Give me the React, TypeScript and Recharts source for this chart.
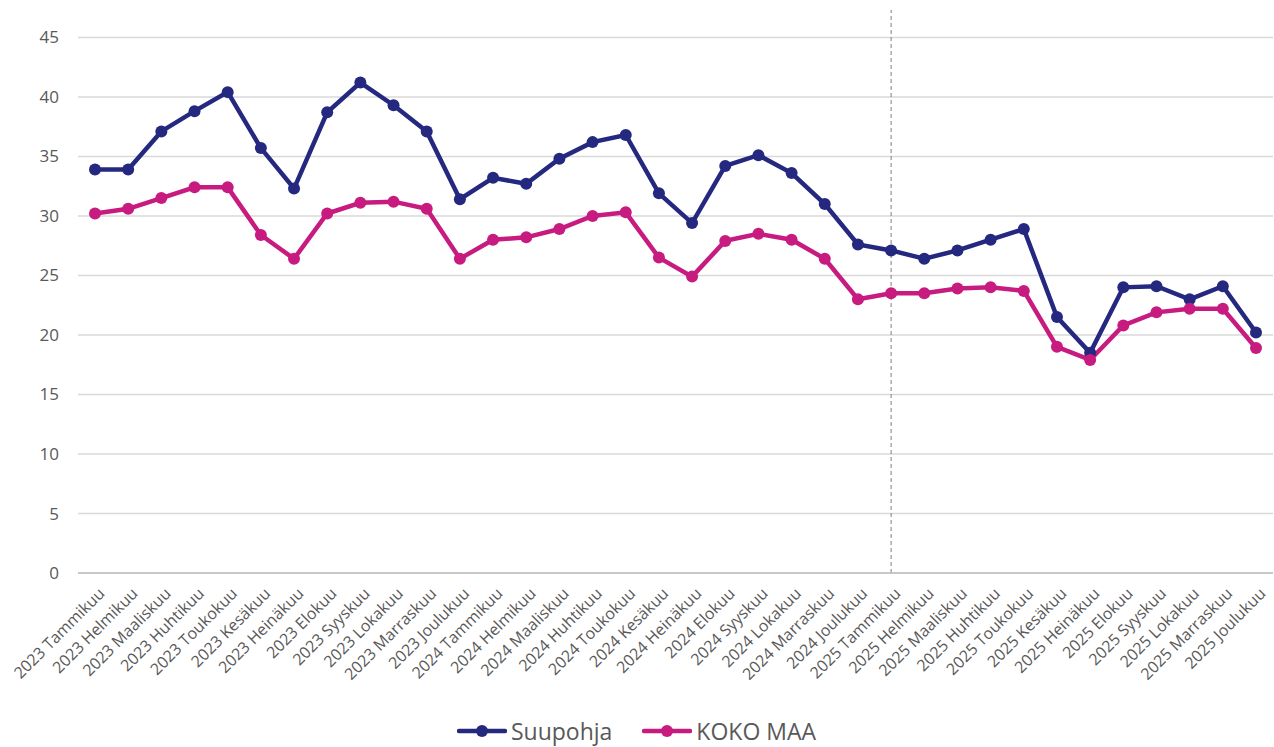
import React from "react";
import {
  LineChart,
  Line,
  XAxis,
  YAxis,
  CartesianGrid,
  Legend,
  ReferenceLine,
} from "recharts";

const months = [
  "Tammikuu", "Helmikuu", "Maaliskuu", "Huhtikuu", "Toukokuu", "Kesäkuu",
  "Heinäkuu", "Elokuu", "Syyskuu", "Lokakuu", "Marraskuu", "Joulukuu",
];
const years = [2023, 2024, 2025];
const categories = years.flatMap((y) => months.map((m) => `${y} ${m}`));

const suupohja = [
  33.9, 33.9, 37.1, 38.8, 40.4, 35.7, 32.3, 38.7, 41.2, 39.3, 37.1, 31.4,
  33.2, 32.7, 34.8, 36.2, 36.8, 31.9, 29.4, 34.2, 35.1, 33.6, 31.0, 27.6,
  27.1, 26.4, 27.1, 28.0, 28.9, 21.5, 18.5, 24.0, 24.1, 23.0, 24.1, 20.2,
];
const kokoMaa = [
  30.2, 30.6, 31.5, 32.4, 32.4, 28.4, 26.4, 30.2, 31.1, 31.2, 30.6, 26.4,
  28.0, 28.2, 28.9, 30.0, 30.3, 26.5, 24.9, 27.9, 28.5, 28.0, 26.4, 23.0,
  23.5, 23.5, 23.9, 24.0, 23.7, 19.0, 17.9, 20.8, 21.9, 22.2, 22.2, 18.9,
];
const yTicks = [0, 5, 10, 15, 20, 25, 30, 35, 40, 45];
const markerMonth = "2025 Tammikuu";

const NAVY = "#24287f";
const MAGENTA = "#c71b80";
const TEXT = "#595959";
const FONT = "'Open Sans', sans-serif";

const data = categories.map((month, i) => ({
  month,
  suupohja: suupohja[i],
  kokoMaa: kokoMaa[i],
}));

const series = [
  { key: "suupohja", name: "Suupohja", color: NAVY },
  { key: "kokoMaa", name: "KOKO MAA", color: MAGENTA },
];

function XTick({ x, y, payload }: any) {
  const tx = x + 1;
  const ty = y + 4;
  return (
    <text
      x={tx}
      y={ty}
      transform={`rotate(-45 ${tx} ${ty})`}
      textAnchor="end"
      dominantBaseline="hanging"
      fontSize={16}
      fontFamily={FONT}
      fill={TEXT}
    >
      {payload.value}
    </text>
  );
}

function LegendContent() {
  return (
    <div
      style={{
        display: "flex",
        justifyContent: "center",
        alignItems: "center",
        gap: 30,
        paddingTop: 6,
        fontFamily: FONT,
        fontSize: 23,
        color: TEXT,
      }}
    >
      {series.map((s) => (
        <div key={s.key} style={{ display: "flex", alignItems: "center" }}>
          <svg width={50} height={14} style={{ marginRight: 4 }}>
            <line x1={2} y1={7} x2={48} y2={7} stroke={s.color} strokeWidth={4.5} strokeLinecap="round" />
            <circle cx={25} cy={7} r={6} fill={s.color} />
          </svg>
          <span>{s.name}</span>
        </div>
      ))}
    </div>
  );
}

export default function App() {
  return (
    <div style={{ position: "absolute", left: 0, top: 0, background: "#fff" }}>
      <LineChart
        width={1274}
        height={747}
        data={data}
        margin={{ top: 10, right: 1, left: 0, bottom: 4 }}
      >
        <CartesianGrid
          vertical={false}
          horizontalValues={yTicks}
          stroke="#d9d9d9"
          strokeWidth={1.5}
        />
        <XAxis
          dataKey="month"
          interval={0}
          height={136}
          padding={{ left: 17, right: 17 }}
          tickLine={false}
          axisLine={{ stroke: "#bfbfbf", strokeWidth: 1.5 }}
          tick={<XTick />}
        />
        <YAxis
          domain={[0, 47.3]}
          ticks={yTicks}
          width={78}
          axisLine={false}
          tickLine={false}
          tickMargin={13}
          tick={{ fontSize: 17, fontFamily: FONT, fill: TEXT }}
        />
        <ReferenceLine x={markerMonth} stroke="#7f7f7f" strokeDasharray="4 3" strokeWidth={1} />
        <Legend verticalAlign="bottom" height={34} content={<LegendContent />} />
        {series.map((s) => (
          <Line
            key={s.key}
            type="linear"
            dataKey={s.key}
            name={s.name}
            stroke={s.color}
            strokeWidth={4.5}
            dot={{ r: 6, fill: s.color, stroke: s.color, strokeWidth: 0 }}
            activeDot={false}
            isAnimationActive={false}
          />
        ))}
      </LineChart>
    </div>
  );
}
